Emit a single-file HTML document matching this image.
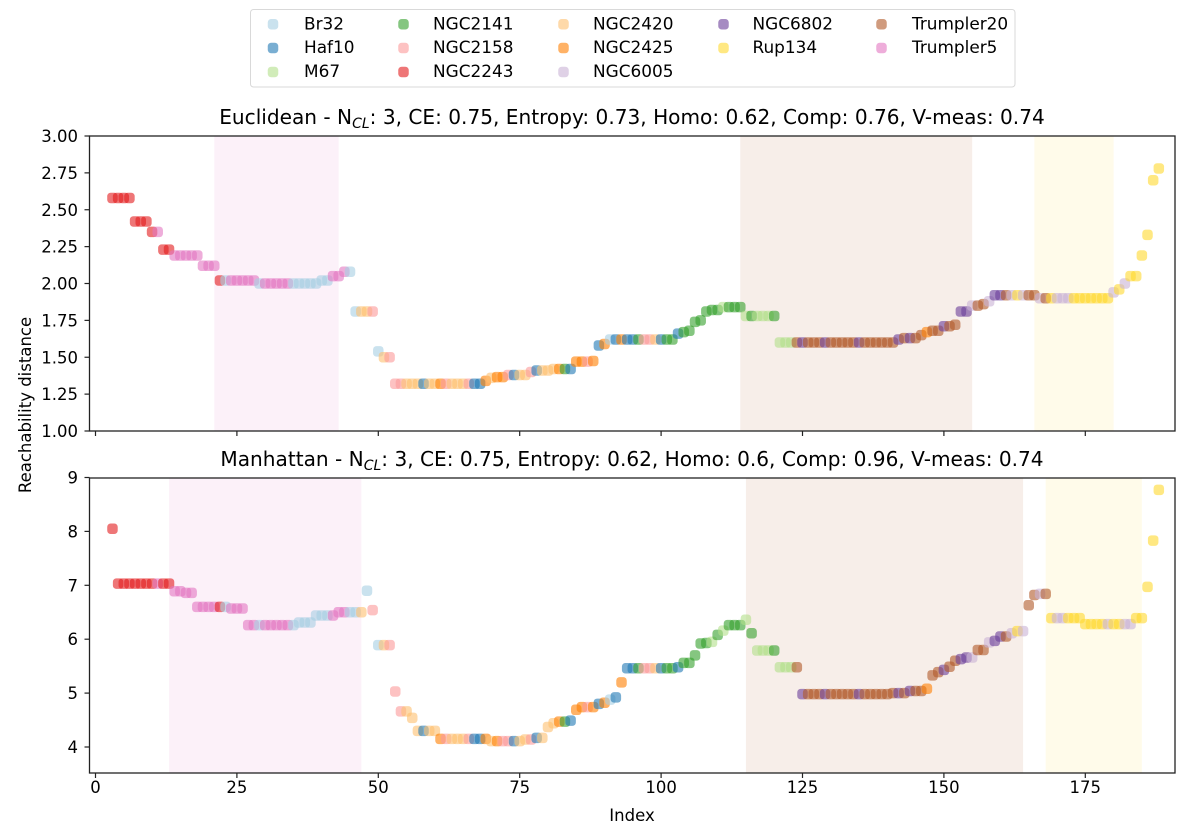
<!DOCTYPE html>
<html>
<head>
<meta charset="utf-8">
<title>Reachability distance</title>
<style>
html,body{margin:0;padding:0;background:#fff;}
svg{display:block;font-family:"DejaVu Sans","Liberation Sans",sans-serif;}
</style>
</head>
<body>
<svg id="chart" xmlns="http://www.w3.org/2000/svg" width="1200" height="823" viewBox="0 0 1200 823"></svg>
<script>
const clusterNames = ['Br32','Haf10','M67','NGC2141','NGC2158','NGC2243','NGC2420','NGC2425','NGC6005','NGC6802','Rup134','Trumpler20','Trumpler5'];
const clusterColors = ['#a6cee3','#1f78b4','#b2df8a','#33a02c','#fb9a99','#e31a1c','#fdbf6f','#ff7f00','#cab2d6','#6a3d9a','#ffd92f','#b15928','#e377c2'];
const firstIndex = 3;
const xTicks = [0,25,50,75,100,125,150,175];
const euclideanYTicks = ['1.00','1.25','1.50','1.75','2.00','2.25','2.50','2.75','3.00'];
const manhattanYTicks = ['4','5','6','7','8','9'];
const euclideanSpans = [[21,43,12],[114,155,11],[166,180,10]];
const manhattanSpans = [[13,47,12],[115,164,11],[168,185,10]];
const euclideanValues = [
2.58,2.58,2.58,2.58,2.42,2.42,2.42,2.35,2.35,2.23,2.23,
2.19,2.19,2.19,2.19,2.19,2.12,2.12,2.12,
2.02,2.02,2.02,2.02,2.02,2.02,2.02,
2.00,2.00,2.00,2.00,2.00,2.00,2.00,2.00,2.00,2.00,2.00,
2.02,2.02,2.05,2.05,2.08,2.08,
1.81,1.81,1.81,1.81,1.54,1.50,1.50,
1.32,1.32,1.32,1.32,1.32,1.32,1.32,1.32,1.32,1.32,1.32,1.32,1.32,1.32,1.32,1.32,
1.34,1.36,1.365,1.365,1.38,1.38,1.38,1.38,1.40,1.41,1.41,1.41,
1.42,1.42,1.42,1.42,1.47,1.47,1.47,1.475,1.58,1.59,
1.62,1.62,1.62,1.62,1.62,1.62,1.62,1.62,1.62,1.62,1.62,1.62,
1.66,1.67,1.68,1.74,1.75,1.81,1.82,1.82,1.84,1.84,1.84,1.84,
1.78,1.78,1.78,1.78,1.78,1.78,
1.60,1.60,1.60,1.60,1.60,1.60,1.60,1.60,1.60,1.60,1.60,1.60,1.60,1.60,1.60,1.60,1.60,1.60,1.60,1.60,1.60,
1.62,1.63,1.63,1.63,1.65,1.67,1.68,1.68,1.71,1.71,1.72,1.81,1.81,1.85,1.85,1.86,1.88,
1.92,1.92,1.92,1.92,1.92,1.92,1.92,1.92,
1.90,1.90,1.90,1.90,1.90,1.90,1.90,1.90,1.90,1.90,1.90,1.90,1.90,
1.94,1.96,2.00,2.05,2.05,2.19,2.33,2.70,2.78];
const euclideanClusters = [
5,5,5,5,5,5,5,5,12,5,5,
12,12,12,12,12,12,12,12,
5,0,12,12,12,12,12,
0,12,12,12,12,12,0,0,0,0,0,
0,0,12,12,12,0,
0,6,6,4,0,6,4,
4,4,6,6,6,1,6,6,7,4,6,6,6,4,1,1,
7,6,7,7,4,1,6,6,4,1,6,6,
6,7,3,1,7,7,4,7,1,7,
0,1,7,1,1,3,4,4,6,1,3,3,
1,3,3,3,3,3,3,3,2,3,3,3,
2,3,2,2,2,3,
2,2,2,11,9,11,11,11,9,11,11,11,11,11,9,11,11,11,11,11,11,
9,11,9,11,11,7,11,11,9,11,11,9,9,8,11,11,8,
9,9,11,8,10,8,11,11,
8,11,10,8,8,8,10,10,10,10,10,10,10,
8,10,8,10,10,10,10,10,10];
const manhattanValues = [
8.05,
7.03,7.03,7.03,7.03,7.03,7.03,7.03,7.03,7.03,7.03,
6.89,6.89,6.86,6.86,
6.60,6.60,6.60,6.60,6.60,6.60,6.57,6.57,6.57,
6.26,6.26,6.26,6.26,6.26,6.26,6.26,6.26,6.26,
6.31,6.31,6.31,6.44,6.44,6.44,6.44,6.50,6.50,6.50,6.50,6.50,
6.90,6.54,5.89,5.89,5.89,5.03,4.66,4.66,4.54,4.30,4.30,4.30,4.30,
4.15,4.15,4.15,4.15,4.15,4.15,4.15,4.15,4.15,
4.11,4.11,4.11,4.11,4.11,4.11,4.14,4.14,4.17,4.17,4.37,4.44,4.47,4.47,4.49,
4.69,4.74,4.74,4.74,4.80,4.82,4.88,4.92,5.20,
5.46,5.46,5.46,5.46,5.46,5.46,5.46,5.46,5.46,
5.48,5.56,5.56,5.70,5.92,5.93,5.95,6.08,6.16,6.26,6.26,6.26,6.36,6.11,
5.79,5.79,5.79,5.79,5.48,5.48,5.48,5.48,
4.98,4.98,4.98,4.98,4.98,4.98,4.98,4.98,4.98,4.98,4.98,4.98,4.98,4.98,4.98,4.98,
5.00,5.00,5.00,5.04,5.04,5.04,5.08,5.33,5.39,5.43,5.49,5.60,5.63,5.66,5.66,5.80,5.80,5.94,5.97,6.05,6.05,6.11,6.15,6.15,
6.63,6.82,6.84,6.84,
6.39,6.39,6.39,6.39,6.39,6.39,
6.28,6.28,6.28,6.28,6.28,6.28,6.28,6.28,6.28,
6.39,6.39,6.97,7.83,8.77];
const manhattanClusters = [
5,
5,5,5,5,5,5,5,12,5,5,
12,12,12,12,
12,12,12,12,5,0,12,12,12,
12,12,0,12,12,12,12,12,0,
0,0,0,0,0,0,12,12,12,0,0,6,
0,4,0,6,4,4,4,6,6,6,1,6,6,
7,4,6,6,6,4,1,1,7,
6,7,4,4,1,6,6,4,1,6,6,6,7,3,1,
7,7,4,7,1,7,0,1,7,
1,1,3,4,4,6,1,3,3,
1,3,3,3,3,3,2,3,2,3,3,3,2,3,
2,2,2,3,2,2,2,11,
9,11,11,11,9,11,11,11,11,11,9,11,11,11,11,11,
11,9,11,9,11,11,7,11,11,9,11,11,9,9,8,11,11,8,9,9,11,8,10,8,
11,11,8,11,
10,8,8,10,10,10,
10,10,10,10,8,10,10,8,8,
10,10,10,10,10];

const SVG_NS = 'http://www.w3.org/2000/svg';
const svg = document.getElementById('chart');
const xLeft = 89.5, xRight = 1175;
const labelSize = 16.5;
const markerSize = 10.5;
const xScale = function (i) { return 95.5 + i * 5.656; };
const yEuclidean = function (v) { return 431 - (v - 1) * 147.5; };
const yManhattan = function (v) { return 747 - (v - 4) * 53.9; };

function make(tag, attrs, parent) {
  const el = document.createElementNS(SVG_NS, tag);
  for (const k in attrs) el.setAttribute(k, attrs[k]);
  (parent || svg).appendChild(el);
  return el;
}

function drawTitle(parent, y, before, after) {
  const t = make('text', {x: 632, y: y, 'text-anchor': 'middle', 'font-size': 20.1, fill: '#000'}, parent);
  
  
  t.appendChild(document.createTextNode(before));
  const sub = make('tspan', {'font-size': 14, 'font-style': 'italic', dy: 4}, t);
  sub.textContent = 'CL';
  const rest = make('tspan', {dy: -4}, t);
  rest.textContent = after;
}

function drawPanel(cfg) {
  const g = make('g', {});
  
  

  cfg.spans.forEach(function (s) {
    const r = make('rect', {x: xScale(s[0]), y: cfg.top, width: xScale(s[1]) - xScale(s[0]), height: cfg.bottom - cfg.top, fill: clusterColors[s[2]], 'fill-opacity': 0.1}, g);
    
    
  });

  cfg.values.forEach(function (v, n) {
    const i = firstIndex + n;
    const p = make('rect', {x: xScale(i) - markerSize / 2, y: cfg.y(v) - markerSize / 2, width: markerSize, height: markerSize, rx: 3.4, ry: 3.4, fill: clusterColors[cfg.clusters[n]], 'fill-opacity': 0.6}, g);
    
    
  });

  const frame = make('rect', {x: xLeft, y: cfg.top, width: xRight - xLeft, height: cfg.bottom - cfg.top, fill: 'none', stroke: '#222', 'stroke-width': 1.3}, g);
  
  

  xTicks.forEach(function (t) {
    const tick = make('line', {x1: xScale(t), x2: xScale(t), y1: cfg.bottom, y2: cfg.bottom + 5, stroke: '#222', 'stroke-width': 1.2}, g);
    
    
    if (cfg.showXLabels) {
      const lab = make('text', {x: xScale(t), y: cfg.bottom + 20, 'text-anchor': 'middle', 'font-size': labelSize, fill: '#000'}, g);
      
      
      lab.textContent = t;
    }
  });

  cfg.yTicks.forEach(function (t) {
    const py = cfg.y(parseFloat(t));
    const tick = make('line', {x1: xLeft - 5, x2: xLeft, y1: py, y2: py, stroke: '#222', 'stroke-width': 1.2}, g);
    
    
    const lab = make('text', {x: xLeft - 11.5, y: py + 6, 'text-anchor': 'end', 'font-size': labelSize, fill: '#000'}, g);
    
    
    lab.textContent = t;
  });

  drawTitle(g, cfg.top - 12, cfg.titleBefore, cfg.titleAfter);
}

drawPanel({name: 'euclidean', top: 136, bottom: 431, y: yEuclidean, values: euclideanValues, clusters: euclideanClusters, spans: euclideanSpans, yTicks: euclideanYTicks, showXLabels: false, titleBefore: 'Euclidean - N', titleAfter: ': 3, CE: 0.75, Entropy: 0.73, Homo: 0.62, Comp: 0.76, V-meas: 0.74'});
drawPanel({name: 'manhattan', top: 478, bottom: 773, y: yManhattan, values: manhattanValues, clusters: manhattanClusters, spans: manhattanSpans, yTicks: manhattanYTicks, showXLabels: true, titleBefore: 'Manhattan - N', titleAfter: ': 3, CE: 0.75, Entropy: 0.62, Homo: 0.6, Comp: 0.96, V-meas: 0.74'});

const xTitle = make('text', {x: 632, y: 821, 'text-anchor': 'middle', 'font-size': labelSize, fill: '#000'});


xTitle.textContent = 'Index';

const yTitle = make('text', {x: 31, y: 405, 'text-anchor': 'middle', 'font-size': labelSize, fill: '#000', transform: 'rotate(-90 31 405)'});


yTitle.textContent = 'Reachability distance';

const legend = make('g', {});


const legendBox = make('rect', {x: 250.5, y: 9.5, width: 764.5, height: 77.5, rx: 3, fill: '#fff', stroke: '#d9d9d9', 'stroke-width': 1}, legend);


const legendMarkerX = [273, 403.5, 563.5, 723.5, 881.5];
const legendTextX = [304, 433, 593, 752.5, 912];
const legendRowY = [24.3, 48, 72];
const legendRowsPerColumn = [3, 3, 3, 2, 2];
let legendCounter = 0;
legendRowsPerColumn.forEach(function (rows, c) {
  for (let r = 0; r < rows; r++) {
    const k = legendCounter++;
    const entry = make('g', {}, legend);
    
    
    make('rect', {x: legendMarkerX[c] - markerSize / 2, y: legendRowY[r] - markerSize / 2, width: markerSize, height: markerSize, rx: 3.4, ry: 3.4, fill: clusterColors[k], 'fill-opacity': 0.6}, entry);
    const t = make('text', {x: legendTextX[c], y: legendRowY[r] + 5.2, 'font-size': 16.9, fill: '#000'}, entry);
    t.textContent = clusterNames[k];
  }
});
</script>
</body>
</html>
